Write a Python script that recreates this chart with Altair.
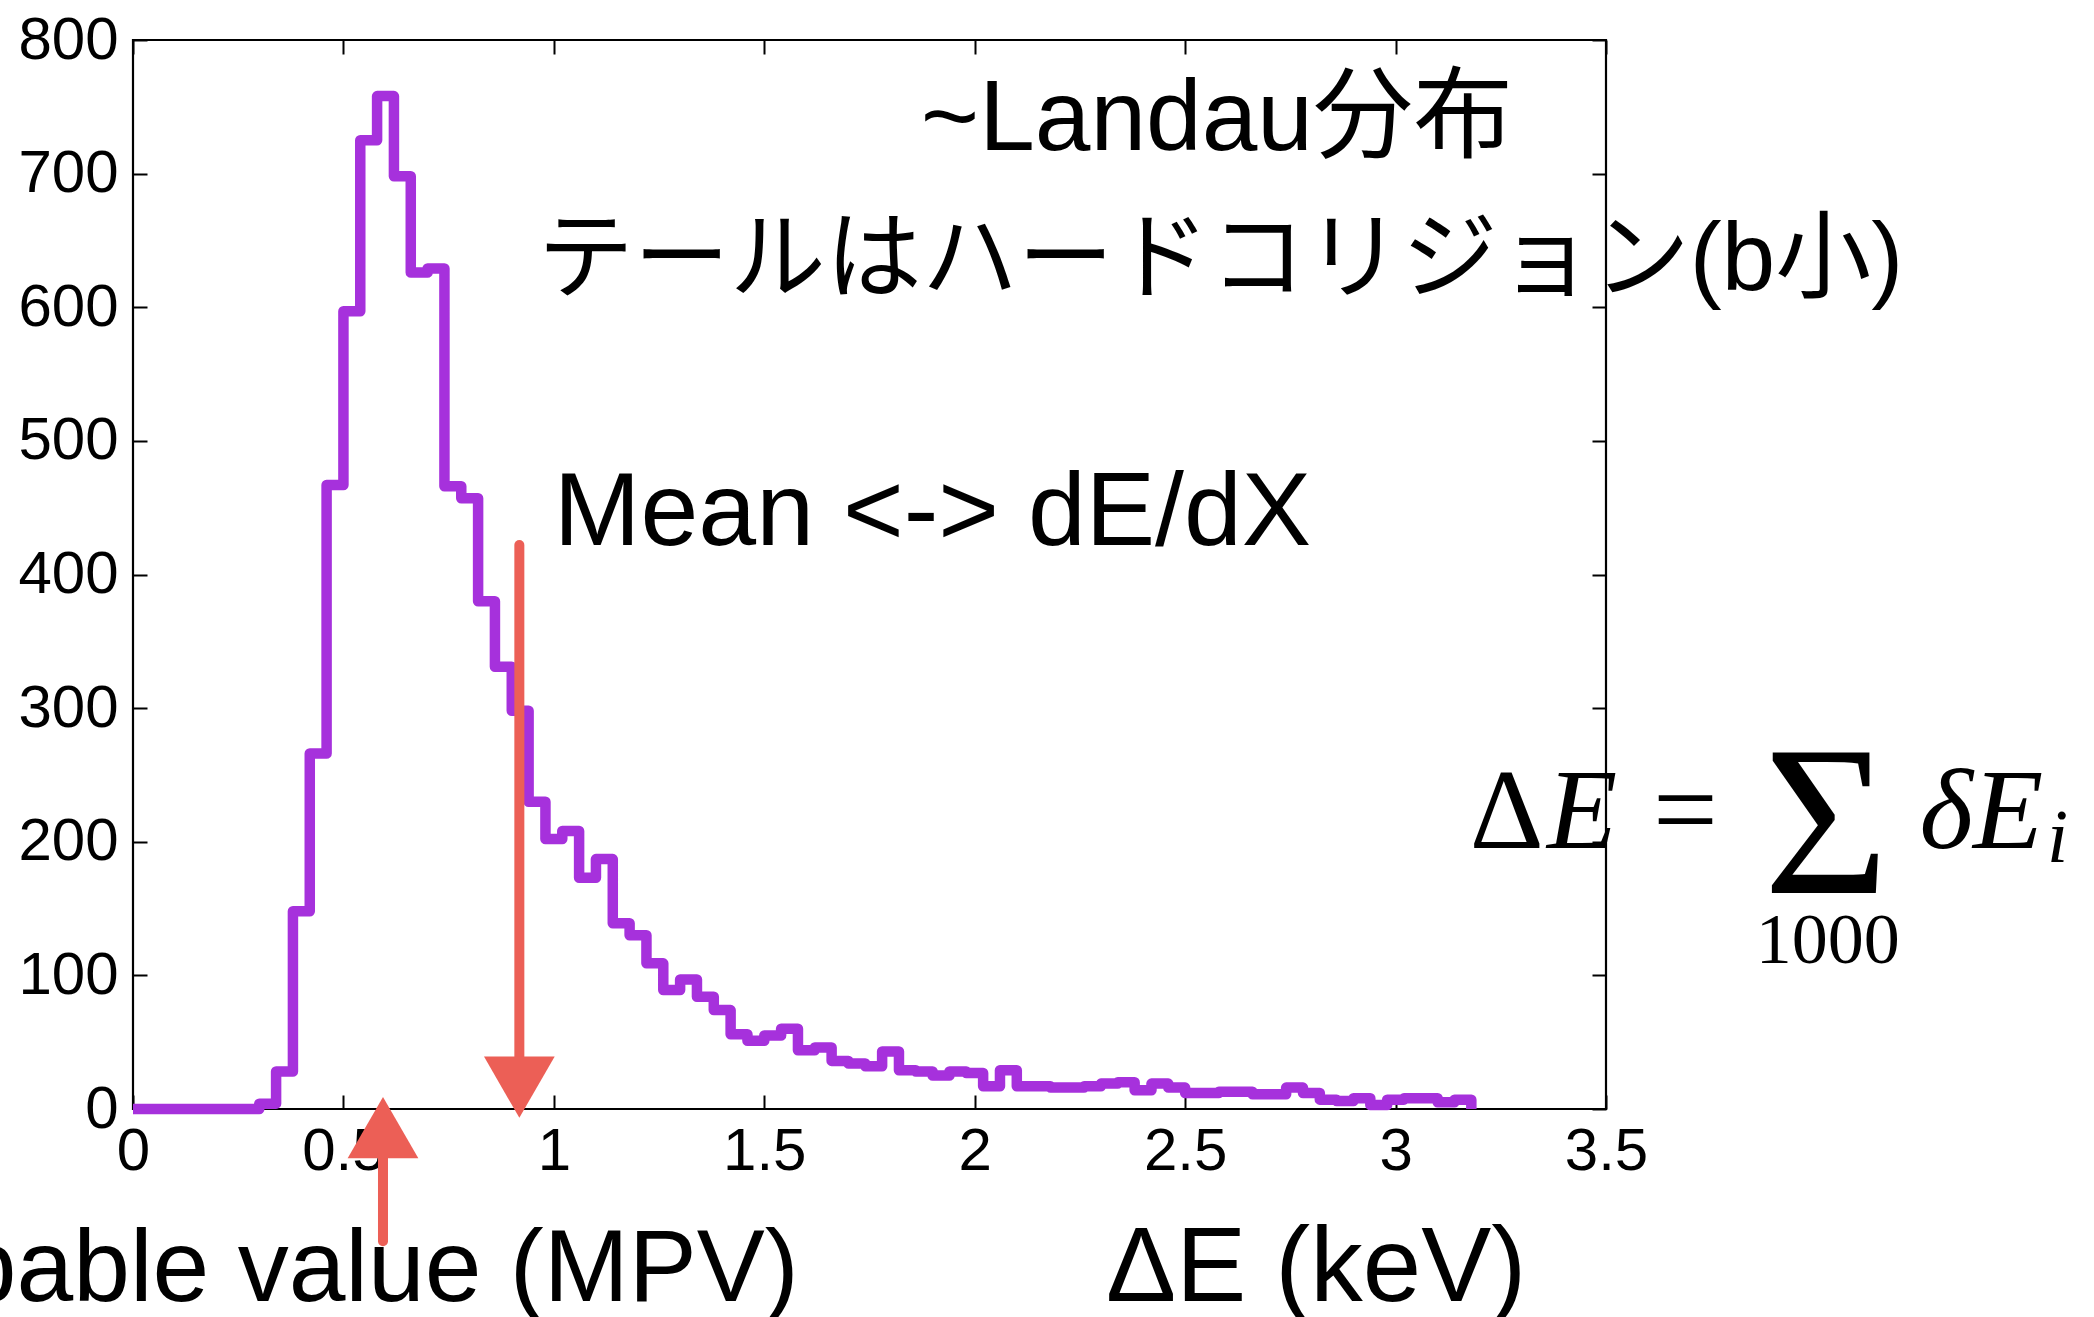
import altair as alt
import pandas as pd

# ---------------- data ----------------
bin_width = 0.04
first_edge = -0.02
counts = [0, 0, 0, 0, 0, 0, 0, 0, 4, 28,
          148, 266, 467, 597, 725, 758, 698, 626, 629, 466,
          457, 380, 331, 298, 230, 202, 208, 173, 187, 139,
          130, 109, 89, 97, 84, 74, 56, 51, 55, 60,
          44, 46, 36, 34, 32, 43, 29, 28, 25, 28,
          27, 17, 29, 17, 17, 16, 16, 17, 19, 20,
          14, 19, 16, 12, 12, 13, 13, 11, 11, 16,
          12, 7, 6, 8, 3, 7, 8, 8, 5, 7]

x_ticks = [0, 0.5, 1, 1.5, 2, 2.5, 3, 3.5]
y_ticks = [0, 100, 200, 300, 400, 500, 600, 700, 800]

ann_text = ["~Landau分布", "テールはハードコリジョン(b小)", "Mean <-> dE/dX",
            "ΔE (keV)", "Most probable value (MPV)"]
ann_x = [1.872, 0.962, 1.0, 2.312, 1.582]
ann_y = [718, 613, 422, -144, -144]
ann_align = ["left", "left", "left", "left", "right"]
ann_size = [100, 96, 104, 105, 102]

f_text = ["Δ", "E", "=", "Σ", "δE", "i", "1000"]
f_x = [3.176, 3.36, 3.689, 4.023, 4.245, 4.548, 4.027]
f_y = [195.6, 195.6, 195.6, 161.9, 195.6, 184.6, 109.5]
f_style = ["normal", "italic", "normal", "normal", "italic", "italic", "normal"]
f_align = ["left", "left", "center", "center", "left", "left", "center"]
f_size = [115, 115, 115, 215, 115, 76, 72]

arrow_x = [0.918, 0.594]
arrow_top = [422, -14]
arrow_bottom = [16, -99]
head_y = [16.3, -14]
head_shape = ["triangle-down", "triangle-up"]

# ---------------- build ----------------
n = len(counts)
xs = [max(round(first_edge + bin_width * i, 4), 0.0) for i in range(n)] + [round(first_edge + bin_width * n, 4)]
ys = counts + [0]
hist = pd.DataFrame({"x": xs, "y": ys, "order": list(range(n + 1))})

x_scale = alt.Scale(domain=[0, 3.5], nice=False, zero=False)
y_scale = alt.Scale(domain=[0, 800], nice=False)

PURPLE = "#a631dc"
RED = "#ec5f56"

common = dict(domain=False, grid=False, ticks=True, tickColor="black", tickWidth=2,
              labelFont="Liberation Sans", labelFontSize=60, labelColor="black",
              title=None, labelFlush=False, labelOverlap=False, labelBound=False)

line = alt.Chart(hist).mark_line(
    interpolate="step-after", color=PURPLE, strokeWidth=10.5, strokeJoin="round", clip=False
).encode(
    x=alt.X("x:Q", scale=x_scale,
            axis=alt.Axis(orient="bottom", values=x_ticks, format="~g", tickSize=14, offset=-14,
                          labelPadding=13, **common)),
    y=alt.Y("y:Q", scale=y_scale,
            axis=alt.Axis(orient="left", values=y_ticks, tickSize=14, offset=-14,
                          labelPadding=15, **common)),
    order="order:Q",
)

mirror = alt.Chart(hist).mark_line(opacity=0).encode(
    x=alt.X("x:Q", scale=x_scale,
            axis=alt.Axis(orient="top", values=x_ticks, labels=False, tickSize=14, offset=-14, **common)),
    y=alt.Y("y:Q", scale=y_scale,
            axis=alt.Axis(orient="right", values=y_ticks, labels=False, tickSize=14, offset=-14, **common)),
    order="order:Q",
)

layers = [line, mirror]

arrows = pd.DataFrame({"x": arrow_x, "y": arrow_top, "y2": arrow_bottom,
                       "hy": head_y, "shape": head_shape})
layers.append(alt.Chart(arrows).mark_rule(color=RED, strokeWidth=10, strokeCap="round", clip=False).encode(
    x=alt.X("x:Q", scale=x_scale, axis=None),
    y=alt.Y("y:Q", scale=y_scale, axis=None),
    y2="y2:Q",
))
layers.append(alt.Chart(arrows).mark_point(filled=True, size=5000, color=RED, opacity=1, clip=False).encode(
    x=alt.X("x:Q", scale=x_scale, axis=None),
    y=alt.Y("hy:Q", scale=y_scale, axis=None),
    shape=alt.Shape("shape:N", scale=None, legend=None),
))

for t, x, y, a, s in zip(ann_text, ann_x, ann_y, ann_align, ann_size):
    df = pd.DataFrame({"t": [t], "x": [x], "y": [y]})
    layers.append(alt.Chart(df).mark_text(
        align=a, baseline="alphabetic", fontSize=s, color="black", clip=False,
        font="Liberation Sans, Noto Sans CJK JP"
    ).encode(
        x=alt.X("x:Q", scale=x_scale, axis=None),
        y=alt.Y("y:Q", scale=y_scale, axis=None),
        text="t:N",
    ))

for t, x, y, st, a, s in zip(f_text, f_x, f_y, f_style, f_align, f_size):
    df = pd.DataFrame({"t": [t], "x": [x], "y": [y]})
    layers.append(alt.Chart(df).mark_text(
        align=a, baseline="alphabetic", fontSize=s, color="black", clip=False,
        font="Liberation Serif", fontStyle=st
    ).encode(
        x=alt.X("x:Q", scale=x_scale, axis=None),
        y=alt.Y("y:Q", scale=y_scale, axis=None),
        text="t:N",
    ))

chart = alt.layer(*layers).resolve_axis(x="independent", y="independent").properties(
    width=1473, height=1069,
    padding={"left": 133, "top": 40, "right": 488, "bottom": 208},
    autosize=alt.AutoSizeParams(type="none"),
    background="white",
).configure_view(stroke="black", strokeWidth=2.2)

chart.save("out.html", embed_options={"renderer": "svg", "actions": False})
